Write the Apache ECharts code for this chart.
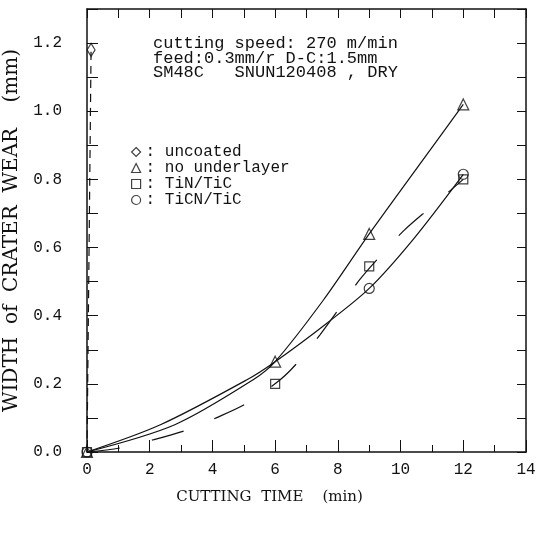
<!DOCTYPE html>
<html>
<head>
<meta charset="utf-8">
<script src="https://cdn.jsdelivr.net/npm/echarts@6/dist/echarts.min.js"></script>
<style>
html, body { margin: 0; padding: 0; background: #fff; }
#chart { width: 537px; height: 537px; }
</style>
</head>
<body>
<div id="chart"></div>
<script>
// measured points (min, mm)
var uncoatedPts = [[0.13, 1.18]];
var uncoatedLine = [[0, 0], [0.13, 1.18]];
var noUnderPts = [[0, 0], [6, 0.265], [9, 0.64], [12, 1.02]];
var noUnderCurve = [[0, 0], [2.8, 0.08], [5.3, 0.212], [6, 0.265], [7.54, 0.446], [9, 0.64], [10.94, 0.886], [12, 1.02]];
var tinPts = [[0, 0], [6, 0.2], [9, 0.545], [12, 0.8]];
var tinCurve = [[0, 0], [1.06, 0.012], [2.12, 0.036], [3.13, 0.063], [4.14, 0.101], [5.08, 0.142], [6.16, 0.212], [6.74, 0.265], [7.43, 0.344], [8.05, 0.422], [8.69, 0.505], [9.38, 0.578], [10.12, 0.651], [10.92, 0.715], [12, 0.8]];
var ticnPts = [[0, 0], [9, 0.48], [12, 0.815]];
var ticnCurve = [[0, 0], [2.34, 0.08], [5.1, 0.212], [6, 0.265], [7.65, 0.378], [9, 0.48], [10.41, 0.625], [12, 0.815]];

var legendNames = ["uncoated", "no underlayer", "TiN/TiC", "TiCN/TiC"];
var legendIcons = ["diamond", "triangle", "rect", "circle"];
var noteLines = ["cutting speed: 270 m/min", "feed:0.3mm/r D-C:1.5mm", "SM48C   SNUN120408 , DRY"];

var ink = "#111";
var mono = "Liberation Mono";
var serif = "DejaVu Serif";

var chart = echarts.init(document.getElementById("chart"));

function markers(name, data, symbol, size) {
  return {
    name: name,
    type: "scatter",
    data: data,
    symbol: symbol,
    symbolSize: size,
    itemStyle: { color: "transparent", borderColor: ink, borderWidth: 1.2 },
    z: 5
  };
}
function curve(name, data, dash) {
  return {
    name: name,
    type: "line",
    data: data,
    smooth: 0.3,
    showSymbol: false,
    symbol: "none",
    lineStyle: { color: ink, width: 1.2, type: dash || "solid" }
  };
}
function frameAxis(extra) {
  var a = {
    type: "value",
    axisLine: { onZero: false, lineStyle: { color: ink, width: 1.5 } },
    splitLine: { show: false }
  };
  for (var k in extra) a[k] = extra[k];
  return a;
}

var option = {
  animation: false,
  backgroundColor: "#fff",
  grid: { left: 87, right: 11, top: 9, bottom: 85, outerBoundsMode: "none" },
  xAxis: [
    frameAxis({
      min: 0,
      max: 14,
      interval: 2,
      position: "bottom",
      axisTick: { inside: true, length: 12, lineStyle: { color: ink } },
      minorTick: { show: true, splitNumber: 2, length: 7, lineStyle: { color: ink } },
      axisLabel: { margin: 10, color: ink, fontFamily: mono, fontSize: 16 },
      name: "CUTTING  TIME    (min)",
      nameLocation: "middle",
      nameGap: 38,
      nameTextStyle: { color: ink, fontFamily: serif, fontSize: 15, padding: [0, 74, 0, 0] }
    }),
    frameAxis({
      min: 0,
      max: 14,
      interval: 1,
      position: "top",
      axisTick: { inside: true, length: 9, lineStyle: { color: ink } },
      axisLabel: { show: false }
    })
  ],
  yAxis: [
    frameAxis({
      min: 0,
      max: 1.3,
      interval: 0.1,
      position: "left",
      axisTick: { inside: true, length: 11, lineStyle: { color: ink } },
      axisLabel: {
        margin: 25,
        color: ink,
        fontFamily: mono,
        fontSize: 16,
        formatter: function (v) {
          return Math.round(v * 10) % 2 === 0 ? v.toFixed(1) : "";
        }
      },
      name: "WIDTH  of  CRATER  WEAR    (mm)",
      nameLocation: "middle",
      nameGap: 54,
      nameTextStyle: { color: ink, fontFamily: serif, fontSize: 20 }
    }),
    frameAxis({
      min: 0,
      max: 1.3,
      interval: 0.1,
      position: "right",
      axisTick: { inside: true, length: 9, lineStyle: { color: ink } },
      axisLabel: { show: false }
    })
  ],
  legend: {
    orient: "vertical",
    left: 126,
    top: 139,
    itemWidth: 9,
    itemHeight: 9,
    itemGap: 0,
    data: legendNames.map(function (n, i) { return { name: n, icon: legendIcons[i] }; }),
    formatter: function (n) { return ": " + n; },
    itemStyle: { color: "transparent", borderColor: ink, borderWidth: 1.2 },
    textStyle: { color: ink, fontFamily: mono, fontSize: 16, lineHeight: 14 }
  },
  graphic: [
    {
      type: "text",
      left: 153,
      top: 35,
      style: { text: noteLines.join("\n"), fill: ink, font: "17px 'Liberation Mono'", lineHeight: 14.5 }
    }
  ],
  series: [
    curve("uncoated line", uncoatedLine, [8, 6]),
    markers("uncoated", uncoatedPts, "diamond", [8, 13]),
    curve("no underlayer line", noUnderCurve),
    markers("no underlayer", noUnderPts, "triangle", 11),
    curve("TiN/TiC line", tinCurve, [33, 33]),
    markers("TiN/TiC", tinPts, "rect", 9),
    curve("TiCN/TiC line", ticnCurve),
    markers("TiCN/TiC", ticnPts, "circle", 10)
  ]
};

chart.setOption(option);
</script>
</body>
</html>
